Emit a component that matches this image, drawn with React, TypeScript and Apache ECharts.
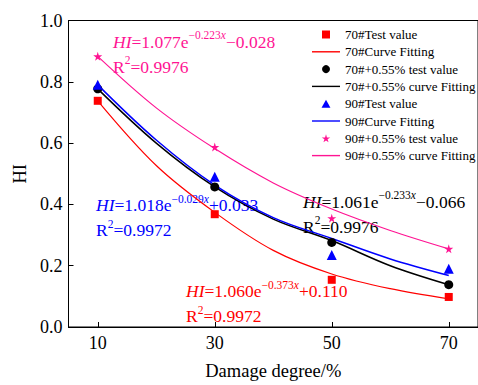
import React, { useEffect, useRef } from "react";
import * as echarts from "echarts";

const testX = [10, 30, 50, 70];
const s70Test = [0.738, 0.368, 0.154, 0.098];
const s70p055Test = [0.777, 0.457, 0.276, 0.138];
const s90Test = [0.79, 0.49, 0.235, 0.19];
const s90p055Test = [0.883, 0.587, 0.355, 0.255];

const curveX = [10, 20, 30, 40, 50, 60, 70];
const c70 = [0.738, 0.527, 0.374, 0.25, 0.173, 0.125, 0.092];
const c70p055 = [0.777, 0.6, 0.457, 0.352, 0.282, 0.2, 0.138];
const c90 = [0.79, 0.61, 0.463, 0.357, 0.289, 0.222, 0.168];
const c90p055 = [0.883, 0.715, 0.582, 0.47, 0.385, 0.315, 0.255];

const xTicks = [10, 30, 50, 70];

const legendNames = [
  "70#Test value",
  "70#Curve Fitting",
  "70#+0.55% test value",
  "70#+0.55% curve Fitting",
  "90#Test value",
  "90#Curve Fitting",
  "90#+0.55% test value",
  "90#+0.55% curve Fitting",
];

const RED = "#FF0000";
const BLACK = "#000000";
const BLUE = "#0000FF";
const PINK = "#FF1493";
const FONT = "'Liberation Serif', 'Times New Roman', serif";

const SQUARE = "path://M0,0 L10,0 L10,10 L0,10 Z";
const TRIANGLE = "path://M5,0 L10,9 L0,9 Z";
const STAR = "path://M50,0 L61,35 L98,35 L68,57 L79,91 L50,70 L21,91 L32,57 L2,35 L39,35 Z";
const LINEICON = "path://M0,0 L28,0 L28,1.4 L0,1.4 Z";

const zip = (xs: number[], ys: number[]) => xs.map((x, i) => [x, ys[i]]);

function eqText(
  x: number,
  y: number,
  color: string,
  coef: string,
  exp: string,
  tail: string,
  r2: string
) {
  const rich = {
    i: { fontStyle: "italic", fontSize: 17.5, lineHeight: 25, fontFamily: FONT, fill: color },
    n: { fontSize: 17.5, lineHeight: 25, fontFamily: FONT, fill: color },
    s: { fontSize: 11.5, lineHeight: 12, verticalAlign: "top", fontFamily: FONT, fill: color },
    si: { fontSize: 11.5, lineHeight: 12, verticalAlign: "top", fontStyle: "italic", fontFamily: FONT, fill: color },
  };
  return [
    {
      type: "text",
      left: x,
      top: y,
      style: {
        text: `{i|HI}{n|=${coef}e}{s|${exp}}{si|x}{n|${tail}}`,
        rich,
        fill: color,
      },
    },
    {
      type: "text",
      left: x,
      top: y + 25,
      style: {
        text: `{n|R}{s|2}{n|=${r2}}`,
        rich,
        fill: color,
      },
    },
  ];
}

export default function App() {
  const ref = useRef<HTMLDivElement>(null);
  useEffect(() => {
    if (!ref.current) return;
    const chart = echarts.init(ref.current, null, { renderer: "svg" });
    const lineSeries = (name: string, data: number[], color: string, width: number) => ({
      name,
      type: "line",
      data: zip(curveX, data),
      smooth: 0.35,
      showSymbol: false,
      symbol: "none",
      lineStyle: { color, width },
      itemStyle: { color },
      z: 2,
    });
    const scatterSeries = (name: string, data: number[], color: string, symbol: string, size: number) => ({
      name,
      type: "scatter",
      data: zip(testX, data),
      symbol,
      symbolSize: size,
      itemStyle: { color, opacity: 1 },
      z: 3,
    });
    const legendIcons = [SQUARE, LINEICON, "circle", LINEICON, TRIANGLE, LINEICON, STAR, LINEICON];
    chart.setOption({
      animation: false,
      backgroundColor: "#fff",
      textStyle: { fontFamily: FONT },
      grid: {
        left: 68.5,
        right: -10.5,
        top: 20.5,
        bottom: 56.7,
        show: true,
        borderColor: "#000",
        borderWidth: 1,
        backgroundColor: "transparent",
      },
      legend: {
        orient: "vertical",
        left: 307,
        top: 22.5,
        itemWidth: 28,
        itemHeight: 8,
        itemGap: 3.3,
        data: legendNames.map((n, i) => ({ name: n, icon: legendIcons[i] })),
        textStyle: { fontFamily: FONT, fontSize: 13, color: "#000", lineHeight: 14 },
      },
      xAxis: {
        type: "value",
        min: 5,
        max: 75,
        name: "Damage degree/%",
        nameLocation: "middle",
        nameGap: 34,
        nameTextStyle: { fontFamily: FONT, fontSize: 18.5, color: "#000" },
        axisLine: { lineStyle: { color: "#000", width: 1 } },
        axisTick: { inside: true, length: 5, customValues: xTicks, lineStyle: { color: "#000" } },
        axisLabel: {
          customValues: xTicks,
          fontFamily: FONT,
          fontSize: 18,
          color: "#000",
          margin: 7,
        },
        splitLine: { show: false },
      },
      yAxis: {
        type: "value",
        min: 0,
        max: 1,
        interval: 0.2,
        name: "HI",
        nameLocation: "middle",
        nameGap: 34,
        nameRotate: 90,
        nameTextStyle: { fontFamily: FONT, fontSize: 18.5, color: "#000" },
        axisLine: { show: true, lineStyle: { color: "#000", width: 1 } },
        axisTick: { show: true, inside: true, length: 5, lineStyle: { color: "#000" } },
        axisLabel: {
          fontFamily: FONT,
          fontSize: 18,
          color: "#000",
          margin: 6,
          formatter: (v: number) => v.toFixed(1),
        },
        splitLine: { show: false },
      },
      graphic: [
        ...eqText(113, 29, PINK, "1.077", "\u22120.223", "\u22120.028", "0.9976"),
        ...eqText(96, 192.5, BLUE, "1.018", "\u22120.029", "+0.033", "0.9972"),
        ...eqText(303, 189, BLACK, "1.061", "\u22120.233", "\u22120.066", "0.9976"),
        ...eqText(186, 278.5, RED, "1.060", "\u22120.373", "+0.110", "0.9972"),
      ],
      series: [
        scatterSeries(legendNames[0], s70Test, RED, SQUARE, 8),
        lineSeries(legendNames[1], c70, RED, 1.2),
        scatterSeries(legendNames[2], s70p055Test, BLACK, "circle", 9),
        lineSeries(legendNames[3], c70p055, BLACK, 1.5),
        scatterSeries(legendNames[4], s90Test, BLUE, TRIANGLE, 10),
        lineSeries(legendNames[5], c90, BLUE, 1.5),
        scatterSeries(legendNames[6], s90p055Test, PINK, STAR, 9),
        lineSeries(legendNames[7], c90p055, PINK, 1.2),
      ],
    });
    return () => chart.dispose();
  }, []);
  return (
    <div
      ref={ref}
      style={{ position: "fixed", left: 0, top: 0, width: 478, height: 385, background: "#fff" }}
    />
  );
}
